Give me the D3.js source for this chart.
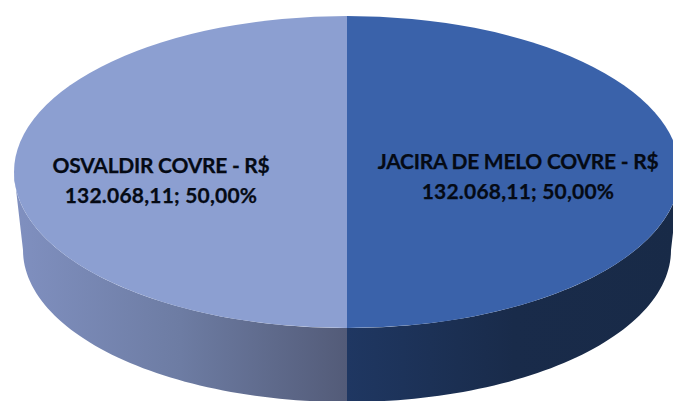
<!DOCTYPE html>
<html><head><meta charset="utf-8">
<script src="https://cdn.jsdelivr.net/npm/d3@7/dist/d3.min.js"></script>
<style>html,body{margin:0;padding:0;background:#fff;overflow:hidden}svg{display:block}</style>
</head><body><svg id="c" width="673" height="401"></svg>
<script>
const categories = ["JACIRA DE MELO COVRE", "OSVALDIR COVRE"];
const values = [132068.11, 132068.11];
const valueLabels = ["132.068,11", "132.068,11"];
const percentLabels = ["50,00%", "50,00%"];
const topColors = ["#3a62aa", "#8c9fd1"];
const sideStops = [["#1f3762", "#192b4a", "#182a47"], ["#535b78", "#6d7ca3", "#8090c0"]];

const svg = d3.select("#c");
const cx = 347, topCy = 172, topRx = 333, topRy = 156;
const botCy = 250, botRx = 324, botRy = 152;
const labelPos = [[518, 169], [161, 173]];

const pie = d3.pie().sort(null).value(d => d).startAngle(0).endAngle(2 * Math.PI);
const slices = pie(values);
const arc = d3.arc().innerRadius(0).outerRadius(1);
const xT = d3.scaleLinear().domain([-1, 1]).range([cx - topRx, cx + topRx]);
const yT = d3.scaleLinear().domain([-1, 1]).range([topCy - topRy, topCy + topRy]);
const xB = d3.scaleLinear().domain([-1, 1]).range([cx - botRx, cx + botRx]);
const yB = d3.scaleLinear().domain([-1, 1]).range([botCy - botRy, botCy + botRy]);

const defs = svg.append("defs");
slices.forEach((s, i) => {
  const g = defs.append("linearGradient").attr("id", "side" + i)
    .attr("gradientUnits", "userSpaceOnUse")
    .attr("x1", cx).attr("x2", i === 0 ? cx + topRx : cx - topRx).attr("y1", 0).attr("y2", 0);
  sideStops[i].forEach((c, k) => g.append("stop").attr("offset", k / 2).attr("stop-color", c));
});

// side wall: front quarter of each slice, top rim joined to the bottom rim
const line = d3.line();
slices.forEach((s, i) => {
  const from = i === 0 ? Math.PI / 2 : s.startAngle;
  const to = i === 0 ? s.endAngle : s.startAngle + Math.PI / 2;
  const ang = d3.range(0, 61).map(k => from + k / 60 * (to - from));
  const topRim = ang.map(a => [xT(Math.sin(a)), yT(-Math.cos(a))]);
  const botRim = ang.map(a => [xB(Math.sin(a)), yB(-Math.cos(a))]).reverse();
  svg.append("path").attr("d", line(topRim.concat(botRim)) + "Z").attr("fill", `url(#side${i})`);
});

// top faces
slices.forEach((s, i) => {
  svg.append("path").attr("d", arc(s))
    .attr("transform", `translate(${cx},${topCy}) scale(${topRx},${topRy})`)
    .attr("fill", topColors[i]);
});

// labels
const label = svg.append("g").attr("font-family", "Lato, 'Noto Sans', sans-serif")
  .attr("font-weight", 700).attr("font-size", 21).attr("fill", "#050a14")
  .attr("stroke", "#050a14").attr("stroke-width", 0.25).attr("text-anchor", "middle");
slices.forEach((s, i) => {
  const [lx, ly] = labelPos[i];
  const t = label.append("text").attr("x", lx).attr("y", ly);
  t.append("tspan").attr("x", lx).attr("letter-spacing", -0.25).text(`${categories[i]} - R$`);
  t.append("tspan").attr("x", lx).attr("dy", 30).attr("letter-spacing", 0.2).text(`${valueLabels[i]}; ${percentLabels[i]}`);
});
</script></body></html>
